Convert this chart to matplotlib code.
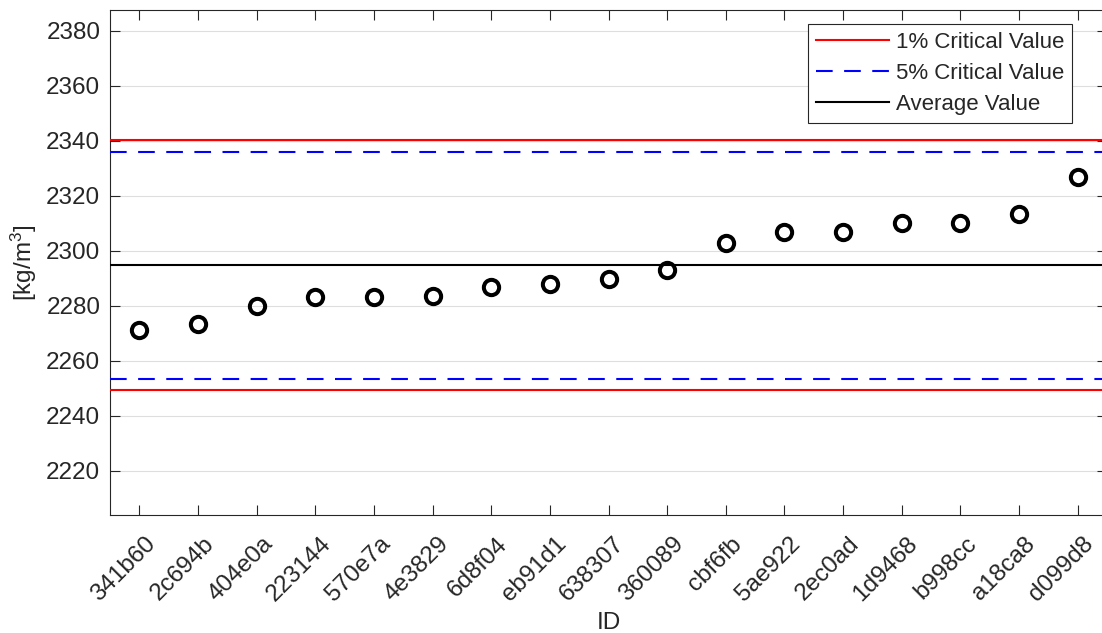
import matplotlib
matplotlib.use("Agg")
import matplotlib.pyplot as plt
import matplotlib.transforms as mtransforms

plt.rcParams["font.family"] = ["Liberation Sans", "DejaVu Sans"]
plt.rcParams["mathtext.fontset"] = "custom"
plt.rcParams["mathtext.rm"] = "Liberation Sans"
plt.rcParams["mathtext.it"] = "Liberation Sans:italic"

# Sample IDs and measured densities [kg/m^3], sorted ascending
ids = ["341b60", "2c694b", "404e0a", "223144", "570e7a", "4e3829", "6d8f04",
       "eb91d1", "638307", "360089", "cbf6fb", "5ae922", "2ec0ad", "1d9468",
       "b998cc", "a18ca8", "d099d8"]
density = [2271.4, 2273.3, 2280.0, 2283.3, 2283.3, 2283.4, 2286.7,
           2287.8, 2289.7, 2293.1, 2302.9, 2306.8, 2306.7, 2310.1,
           2310.1, 2313.4, 2326.8]

# Outlier test limits
crit_1pct = [2249.3, 2340.2]
crit_5pct = [2253.5, 2335.9]
average_value = 2294.7

yticks = [2220, 2240, 2260, 2280, 2300, 2320, 2340, 2360, 2380]

W, H = 1102, 633
fig = plt.figure(figsize=(W / 100, H / 100), dpi=100)
ax = fig.add_axes([110 / W, 1 - 515 / H, 997 / W, 505 / H])

dark = (0.15, 0.15, 0.15)
fs_tick = 17.5
fs_leg = 16

x = list(range(1, len(ids) + 1))

h1 = ax.axhline(crit_1pct[1], color="#ff0000", lw=1.5, zorder=3)
ax.axhline(crit_1pct[0], color="#ff0000", lw=1.5, zorder=3)
h5 = ax.axhline(crit_5pct[1], color="#0000ff", lw=1.5, dashes=(8, 5.5), zorder=3)
ax.axhline(crit_5pct[0], color="#0000ff", lw=1.5, dashes=(8, 5.5), zorder=3)
ha = ax.axhline(average_value, color="black", lw=1.5, zorder=3)

ax.plot(x, density, linestyle="none", marker="o", ms=11, mfc="none",
        mec="black", mew=2.9, zorder=4)

ax.set_xlim(0.5, len(ids) + 0.5)
ax.set_ylim(2204, 2387.5)
ax.set_yticks(yticks)
ax.set_xticks(x)

ax.grid(axis="y", color=(0.87, 0.87, 0.87), lw=0.8, zorder=0)
ax.set_axisbelow(True)

ax.tick_params(axis="both", direction="in", length=7.5, width=0.8,
               colors=dark, labelsize=fs_tick, top=True, right=True)
ax.tick_params(axis="y", pad=7)
ax.tick_params(axis="x", pad=13)
for s in ax.spines.values():
    s.set_color(dark)
    s.set_linewidth(0.8)

# Rotated category labels, nudged slightly right of each tick
ax.set_xticklabels(ids, rotation=45, ha="right", va="top",
                   rotation_mode="anchor")
offset = mtransforms.ScaledTranslation(5 / 100, 0, fig.dpi_scale_trans)
for lbl in ax.get_xticklabels():
    lbl.set_transform(lbl.get_transform() + offset)

ax.set_xlabel("ID", fontsize=fs_tick, color=dark, labelpad=4)
ax.set_ylabel("[kg/m$^3$]", fontsize=fs_tick, color=dark, labelpad=5)

leg = ax.legend([h1, h5, ha],
                ["1% Critical Value", "5% Critical Value", "Average Value"],
                loc="upper right",
                bbox_to_anchor=(1072 / W, 1 - 24 / H),
                bbox_transform=fig.transFigure,
                fontsize=fs_leg, frameon=True, fancybox=False, shadow=False,
                framealpha=1, edgecolor=dark, handlelength=3.3,
                handletextpad=0.3, labelspacing=0.45, borderpad=0.35,
                borderaxespad=0)
leg.get_frame().set_linewidth(0.8)
for t in leg.get_texts():
    t.set_color(dark)

fig.savefig("out.png", dpi=100)
